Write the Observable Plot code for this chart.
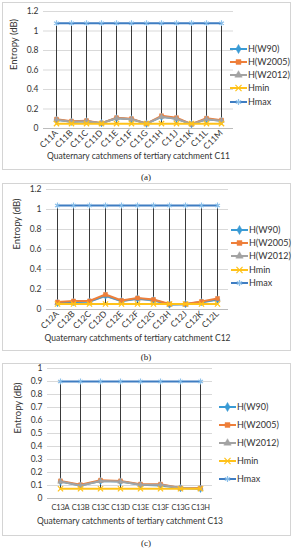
<!DOCTYPE html>
<html><head><meta charset="utf-8">
<script src="https://cdn.jsdelivr.net/npm/d3@7"></script>
<script src="https://cdn.jsdelivr.net/npm/@observablehq/plot@0.6"></script>
<style>
body{margin:0;width:292px;height:550px;position:relative;background:#fff;font-family:Lato,"Open Sans",sans-serif;overflow:hidden}
.panel{position:absolute;border:1px solid #d4d4d4;background:#fff}
.panel svg{display:block}
.cap{position:absolute;left:0;width:292px;text-align:center;font-family:"Liberation Serif",serif;font-size:9px;line-height:10px;color:#222}
.item{position:absolute;display:flex;align-items:center;white-space:nowrap;color:#333;line-height:10px}
.item svg{margin-right:1px}
.narrow g[aria-label="x-axis tick label"] text{letter-spacing:-0.25px}
</style>
</head><body>
<script>
// ---------- data ----------
const catsA = ["C11A","C11B","C11C","C11D","C11E","C11F","C11G","C11H","C11J","C11K","C11L","C11M"];
const w90A   = [0.09,0.07,0.075,0.055,0.105,0.095,0.05,0.12,0.10,0.045,0.095,0.08];
const w2005A = [0.095,0.075,0.08,0.055,0.11,0.10,0.05,0.13,0.11,0.045,0.105,0.085];
const w2012A = [0.09,0.07,0.075,0.055,0.105,0.095,0.05,0.12,0.10,0.045,0.095,0.08];
const hminA  = [0.05,0.05,0.05,0.05,0.05,0.05,0.05,0.05,0.05,0.05,0.05,0.05];
const hmaxA  = [1.08,1.08,1.08,1.08,1.08,1.08,1.08,1.08,1.08,1.08,1.08,1.08];
const ticksA = [0,0.2,0.4,0.6,0.8,1,1.2];

const catsB = ["C12A","C12B","C12C","C12D","C12E","C12F","C12G","C12H","C12J","C12K","C12L"];
const w90B   = [0.065,0.075,0.08,0.14,0.085,0.11,0.095,0.05,0.055,0.075,0.10];
const w2005B = [0.075,0.085,0.085,0.15,0.09,0.115,0.10,0.055,0.055,0.08,0.11];
const w2012B = [0.065,0.075,0.08,0.135,0.085,0.105,0.09,0.05,0.05,0.07,0.10];
const hminB  = [0.055,0.055,0.055,0.055,0.055,0.055,0.055,0.055,0.055,0.055,0.055];
const hmaxB  = [1.04,1.04,1.04,1.04,1.04,1.04,1.04,1.04,1.04,1.04,1.04];
const ticksB = [0,0.2,0.4,0.6,0.8,1,1.2];

const catsC = ["C13A","C13B","C13C","C13D","C13E","C13F","C13G","C13H"];
const w90C   = [0.13,0.10,0.135,0.13,0.105,0.10,0.08,0.075];
const w2005C = [0.135,0.105,0.14,0.135,0.11,0.11,0.08,0.08];
const w2012C = [0.13,0.10,0.135,0.13,0.105,0.105,0.08,0.075];
const hminC  = [0.075,0.075,0.075,0.075,0.075,0.075,0.075,0.075];
const hmaxC  = [0.9,0.9,0.9,0.9,0.9,0.9,0.9,0.9];
const ticksC = [0,0.1,0.2,0.3,0.4,0.5,0.6,0.7,0.8,0.9,1];

const seriesNames = ["H(W90)","H(W2005)","H(W2012)","Hmin","Hmax"];
const yTitle = "Entropy (dB)";
const xTitles = ["Quaternary catchmens of tertiary catchment C11",
                 "Quaternary catchments of tertiary catchment C12",
                 "Quaternary catchments of tertiary catchment C13"];
const captions = ["(a)","(b)","(c)"];

// ---------- styles ----------
const styleOf = {
  "H(W90)":   {stroke:"#3A9BD5", symbol:"diamond",  mfill:"#3A9BD5", r:2.3, w:2},
  "H(W2005)": {stroke:"#EE7F3A", symbol:"square",   mfill:"#EE7F3A", r:2.3, w:2},
  "H(W2012)": {stroke:"#A3A3A3", symbol:"triangle", mfill:"#A3A3A3", r:2.1, w:2},
  "Hmin":     {stroke:"#FFC21A", symbol:"times",    mfill:"#FFC21A", r:2.5, w:2},
  "Hmax":     {stroke:"#3F7DC2", symbol:"asterisk", mfill:"#8CC0EA", r:2.7, w:2}
};
const FONT = "Lato, 'Open Sans', sans-serif";

function makePanel(cfg){
  const {cats, vals, ticks, order, box, margins, rotate, legend, xTitle, caption, capY, titleDy, yDx, xFs, narrow} = cfg;
  const rows = [];
  seriesNames.forEach((s,si)=>cats.forEach((c,i)=>rows.push({cat:c, series:s, value:vals[si][i]})));
  const hl = cats.map((c,i)=>({cat:c, lo:vals[3][i], hi:vals[4][i]}));
  const marks = [
    Plot.ruleY(ticks, {stroke:"#d9d9d9", strokeWidth:1}),
    Plot.ruleY([0], {stroke:"#bcbcbc", strokeWidth:1}),
    Plot.ruleX(hl, {x:"cat", y1:"lo", y2:"hi", stroke:"#3a3a3a", strokeWidth:1})
  ];
  order.forEach(s=>{
    const st = styleOf[s];
    const d = rows.filter(r=>r.series===s);
    const open = st.symbol==="times"||st.symbol==="asterisk";
    marks.push(Plot.line(d, {x:"cat", y:"value", stroke:st.stroke, strokeWidth:st.w}));
    marks.push(Plot.dot(d, {x:"cat", y:"value", symbol:()=>st.symbol, r:st.r,
      fill:open?"none":st.mfill, stroke:st.mfill, strokeWidth:open?1.2:0.5}));
  });
  marks.push(Plot.axisY({ticks, tickFormat:d=>String(d), tickSize:0, tickPadding:5, label:null, fill:"#333", fontSize:8.5}));
  marks.push(Plot.axisX({tickSize:0, tickPadding: rotate ? 3 : 6, tickRotate: rotate ? -45 : 0, label:null, fill:"#333",
    fontSize:xFs}));
  marks.push(Plot.text([xTitle], {frameAnchor:"bottom", dy:titleDy, text:d=>d, fill:"#333", fontSize:8.5}));
  marks.push(Plot.text([yTitle], {frameAnchor:"left", dx:yDx, rotate:-90, text:d=>d, fill:"#333", fontSize:9.5}));

  const plot = Plot.plot({
    width: box.w, height: box.h,
    marginTop: margins[0], marginRight: margins[1], marginBottom: margins[2], marginLeft: margins[3],
    x: {type:"point", domain:cats, padding:0.5},
    y: {domain:[ticks[0], ticks[ticks.length-1]]},
    style: {fontFamily:FONT, fontSize:"8.5px", background:"#fff", overflow:"visible"},
    marks
  });
  const div = document.createElement("div");
  div.className = "panel" + (narrow ? " narrow" : "");
  div.style.left = box.x+"px"; div.style.top = box.y+"px";
  div.style.width = box.w+"px"; div.style.height = box.h+"px";
  div.appendChild(plot);
  document.body.appendChild(div);

  // legend
  const symMap = {diamond:d3.symbolDiamond, square:d3.symbolSquare, triangle:d3.symbolTriangle, times:d3.symbolTimes, asterisk:d3.symbolAsterisk};
  seriesNames.forEach((s,i)=>{
    const st = styleOf[s];
    const it = document.createElement("div");
    it.className = "item";
    it.style.left = legend.x+"px";
    it.style.top = (legend.ys[i]-5)+"px";
    it.style.fontSize = legend.fs+"px";
    const sw = d3.create("svg").attr("width",17).attr("height",10);
    sw.append("line").attr("x1",0).attr("x2",17).attr("y1",5).attr("y2",5).attr("stroke",st.stroke).attr("stroke-width",2);
    const open = st.symbol==="times"||st.symbol==="asterisk";
    sw.append("path").attr("transform","translate(8.5,5)")
      .attr("d", d3.symbol(symMap[st.symbol], open?26:24)())
      .attr("fill", open?"none":st.mfill).attr("stroke", st.mfill).attr("stroke-width", open?1.2:0.5);
    it.appendChild(sw.node());
    const t = document.createElement("span"); t.textContent = s; it.appendChild(t);
    document.body.appendChild(it);
  });
  const cp = document.createElement("div");
  cp.className = "cap"; cp.textContent = caption; cp.style.top = (capY-5)+"px";
  document.body.appendChild(cp);
}

makePanel({
  cats:catsA, vals:[w90A,w2005A,w2012A,hminA,hmaxA], ticks:ticksA,
  order:["H(W90)","H(W2005)","H(W2012)","Hmin","Hmax"],
  box:{x:2,y:2,w:287,h:166}, margins:[8,57,41,40], rotate:true, xFs:8.5, narrow:false,
  legend:{x:230, ys:[49,62,75,88,102], fs:9},
  xTitle:xTitles[0], caption:captions[0], capY:177, titleDy:30, yDx:-30
});
makePanel({
  cats:catsB, vals:[w90B,w2005B,w2012B,hminB,hmaxB], ticks:ticksB,
  order:["H(W2012)","H(W90)","H(W2005)","Hmin","Hmax"],
  box:{x:2,y:183,w:287,h:166}, margins:[5,62,41,43], rotate:true, xFs:8.5, narrow:false,
  legend:{x:231, ys:[230,243,256,270,283], fs:9},
  xTitle:xTitles[1], caption:captions[1], capY:357, titleDy:31, yDx:-30
});
makePanel({
  cats:catsC, vals:[w90C,w2005C,w2012C,hminC,hmaxC], ticks:ticksC,
  order:["H(W90)","H(W2005)","H(W2012)","Hmin","Hmax"],
  box:{x:2,y:363,w:287,h:171}, margins:[4,78,37,44], rotate:false, xFs:7.5, narrow:true,
  legend:{x:219, ys:[407,425,443,461,479], fs:9},
  xTitle:xTitles[2], caption:captions[2], capY:543, titleDy:25, yDx:-30
});
</script>
</body></html>
